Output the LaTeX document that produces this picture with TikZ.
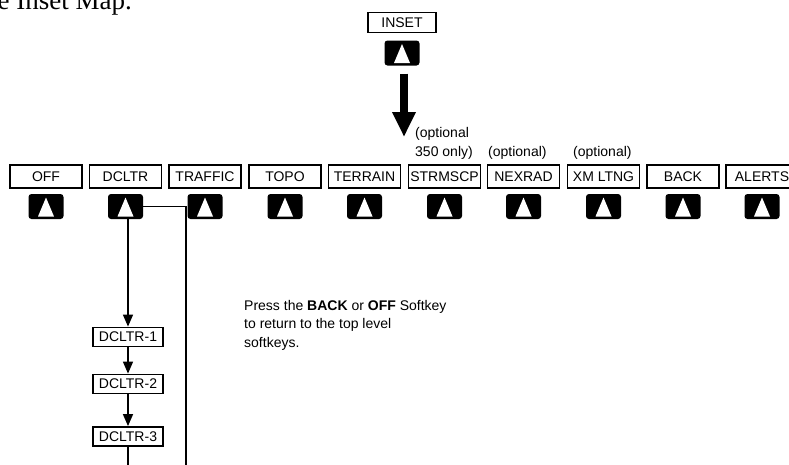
\documentclass[tikz,border=0pt]{standalone}
\usepackage{fontspec}
\setmainfont{Liberation Sans}
\newfontfamily\bookfont{Liberation Serif}
\usetikzlibrary{arrows.meta}

\tikzset{
  softkey/.style={draw,line width=1.8pt,minimum width=72pt,minimum height=23.5pt,inner sep=0pt},
  level/.style={draw,line width=1.8pt,minimum width=70pt,minimum height=19pt,inner sep=0pt},
  btn/.style={fill=black,rounded corners=3pt,minimum width=35pt,minimum height=25pt,inner sep=0pt,
    path picture={\fill[white,sharp corners] ([xshift=-8pt,yshift=-10pt]path picture bounding box.center)
      -- ([xshift=8pt,yshift=-10pt]path picture bounding box.center)
      -- ([yshift=9pt]path picture bounding box.center) -- cycle;}},
  link/.style={line width=1.5pt},
  arr/.style={line width=1.5pt,-{Triangle[length=12pt,width=10pt]}},
  bigarr/.style={line width=8pt,-{Triangle[length=25pt,width=22pt]}},
  note/.style={anchor=base west,inner sep=0pt,align=left}
}

\begin{document}
\begin{tikzpicture}[x=1pt,y=-1pt,font=\fontsize{14}{18.5}\selectfont]
   \useasboundingbox (0,0) rectangle (789,464);
   \clip (0,0) rectangle (789,464);

   % line of running text above the figure
   \node at (132,9) [anchor=base east,inner sep=0pt,font=\bookfont\fontsize{27}{30}\selectfont] (cap) {the Inset Map.};

   \node at (402,22.5) [softkey,minimum width=68pt,minimum height=20pt] (inset) {INSET};
   \node at (402,53) [btn] (ib) {};
   \coordinate (tip) at (404,137);
   \draw[bigarr,shorten <=8pt] (ib.south -| tip) -- (tip);

   % top level softkeys
   \node at (46,176.5) [softkey] (k1) {OFF};
   \node at (125.5,176.5) [softkey] (k2) {DCLTR};
   \node at (205,176.5) [softkey] (k3) {TRAFFIC};
   \node at (285,176.5) [softkey] (k4) {TOPO};
   \node at (364.5,176.5) [softkey] (k5) {TERRAIN};
   \node at (444.5,176.5) [softkey] (k6) {STRMSCP};
   \node at (523.5,176.5) [softkey] (k7) {NEXRAD};
   \node at (603.5,176.5) [softkey] (k8) {XM LTNG};
   \node at (683,176.5) [softkey] (k9) {BACK};
   \node at (762,176.5) [softkey] (k10) {ALERTS};

   \node at (46,206.5) [btn] (b1) {};
   \node at (125.5,206.5) [btn] (b2) {};
   \node at (205,206.5) [btn] (b3) {};
   \node at (285,206.5) [btn] (b4) {};
   \node at (364.5,206.5) [btn] (b5) {};
   \node at (444.5,206.5) [btn] (b6) {};
   \node at (523.5,206.5) [btn] (b7) {};
   \node at (603.5,206.5) [btn] (b8) {};
   \node at (683,206.5) [btn] (b9) {};
   \node at (762,206.5) [btn] (b10) {};

   % base anchor of a two-line note is its last line
   \node at (415,156) [note] (o6) {(optional\\350 only)};
   \node at (488,156) [note] (o7) {(optional)};
   \node at (573,156) [note] (o8) {(optional)};

   % declutter levels
   \node at (128,337) [level] (d1) {DCLTR-1};
   \node at (128,384) [level] (d2) {DCLTR-2};
   \node at (128,436.5) [level] (d3) {DCLTR-3};
   \coordinate (e1) at (128,470);
   \coordinate (e2) at (186,470);

   \draw[arr] (b2.south -| d1) -- (d1.north);
   \draw[arr] (d1) -- (d2);
   \draw[arr] (d2) -- (d3);
   \draw[link] (d3) -- (e1);
   \draw[link] (b2.east) -| (e2);

   \node at (244,347) [note] (msg) {Press the \textbf{BACK} or \textbf{OFF} Softkey\\to return to the top level\\softkeys.};
\end{tikzpicture}
\end{document}
